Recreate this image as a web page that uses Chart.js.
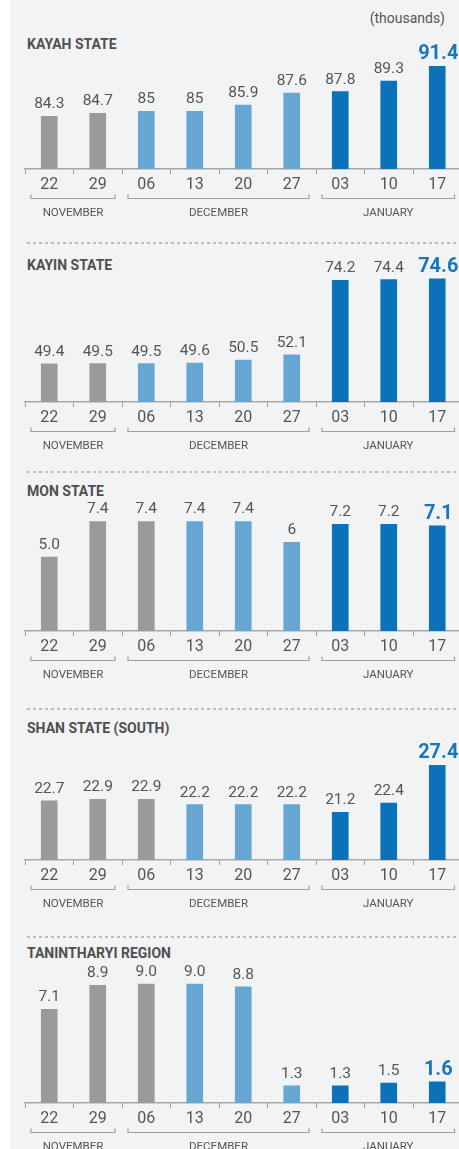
<!DOCTYPE html>
<html>
<head>
<meta charset="utf-8">
<script src="https://cdn.jsdelivr.net/npm/chart.js@4.4.1/dist/chart.umd.min.js"></script>
<style>
html,body{margin:0;padding:0;width:459px;height:1149px;overflow:hidden;background:#fff;font-family:Roboto,sans-serif;}
#bg{position:absolute;left:10px;top:0;width:449px;height:1149px;background:#f2f3f5;}
canvas.c{position:absolute;left:10px;}
.t{position:absolute;left:27px;font:bold 14px/14px Roboto,sans-serif;color:#4f4f4f;white-space:nowrap;}
.u{position:absolute;right:14px;top:11px;font:14px/14px Roboto,sans-serif;color:#555;white-space:nowrap;}
.d{position:absolute;left:27px;width:432px;height:2px;background:repeating-linear-gradient(90deg,#bcbcbc 0 3px,transparent 3px 6px);}
</style>
</head>
<body>
<div id="bg"></div>
<div class="u">(thousands)</div>
<div class="t" style="top:37px">KAYAH STATE</div>
<div class="d" style="top:242px"></div>
<div class="t" style="top:258px">KAYIN STATE</div>
<div class="d" style="top:471px"></div>
<div class="t" style="top:484px">MON STATE</div>
<div class="d" style="top:708px"></div>
<div class="t" style="top:721px">SHAN STATE (SOUTH)</div>
<div class="d" style="top:936px"></div>
<div class="t" style="top:946px">TANINTHARYI REGION</div>

<canvas class="c" id="kayah" width="460" height="220" style="top:9px"></canvas>
<canvas class="c" id="kayin" width="460" height="220" style="top:242px"></canvas>
<canvas class="c" id="mon" width="460" height="220" style="top:471px"></canvas>
<canvas class="c" id="shan" width="460" height="220" style="top:700px"></canvas>
<canvas class="c" id="tanintharyi" width="460" height="220" style="top:943px"></canvas>

<script>
// ---- data ----
const days = ["22","29","06","13","20","27","03","10","17"];
const months = ["NOVEMBER","DECEMBER","JANUARY"];
const monthSpans = [2,4,3];

const kayahValues = [84.3,84.7,85,85,85.9,87.6,87.8,89.3,91.4];
const kayahLabels = ["84.3","84.7","85","85","85.9","87.6","87.8","89.3","91.4"];
const kayahPeriods = ["past","past","recent","recent","recent","recent","latest","latest","latest"];

const kayinValues = [49.4,49.5,49.5,49.6,50.5,52.1,74.2,74.4,74.6];
const kayinLabels = ["49.4","49.5","49.5","49.6","50.5","52.1","74.2","74.4","74.6"];
const kayinPeriods = ["past","past","recent","recent","recent","recent","latest","latest","latest"];

const monValues = [5.0,7.4,7.4,7.4,7.4,6,7.2,7.2,7.1];
const monLabels = ["5.0","7.4","7.4","7.4","7.4","6","7.2","7.2","7.1"];
const monPeriods = ["past","past","past","recent","recent","recent","latest","latest","latest"];

const shanValues = [22.7,22.9,22.9,22.2,22.2,22.2,21.2,22.4,27.4];
const shanLabels = ["22.7","22.9","22.9","22.2","22.2","22.2","21.2","22.4","27.4"];
const shanPeriods = ["past","past","past","recent","recent","recent","latest","latest","latest"];

const tanintharyiValues = [7.1,8.9,9.0,9.0,8.8,1.3,1.3,1.5,1.6];
const tanintharyiLabels = ["7.1","8.9","9.0","9.0","8.8","1.3","1.3","1.5","1.6"];
const tanintharyiPeriods = ["past","past","past","recent","recent","recent","latest","latest","latest"];

// ---- styles ----
const shade = {past:"#9a9a9a", recent:"#66a6d3", latest:"#0b71b9"};

const valueLabelPlugin = {
  id:"valueLabels",
  afterDatasetsDraw(chart){
    const ctx = chart.ctx;
    const ds = chart.data.datasets[0];
    const meta = chart.getDatasetMeta(0);
    ctx.save();
    ctx.textAlign = "center";
    ctx.textBaseline = "alphabetic";
    meta.data.forEach((bar,i)=>{
      const last = i === meta.data.length-1;
      ctx.font = last ? "bold 20px Roboto" : "15.5px Roboto";
      ctx.fillStyle = last ? "#1a76bc" : "#555555";
      ctx.fillText(ds.valueLabels[i], bar.x + (last ? 1 : 0), bar.y - (last ? 7 : 8));
    });
    ctx.restore();
  }
};

const bracketPlugin = {
  id:"monthBrackets",
  afterDraw(chart){
    const ctx = chart.ctx;
    const xs = chart.scales.x;
    const axisY = chart.chartArea.bottom;
    const half = (xs.getPixelForValue(1) - xs.getPixelForValue(0)) / 2;
    let start = 0;
    ctx.save();
    months.forEach((m,i)=>{
      const end = start + monthSpans[i] - 1;
      const x0 = xs.getPixelForValue(start) - half + 6;
      const x1 = xs.getPixelForValue(end) + half - 7;
      const by = axisY + 29.5;
      ctx.strokeStyle = "#a0a0a0";
      ctx.lineWidth = 1.2;
      ctx.beginPath();
      ctx.moveTo(x0, by - 4); ctx.lineTo(x0, by); ctx.lineTo(x1, by); ctx.lineTo(x1, by - 4);
      ctx.stroke();
      ctx.fillStyle = "#555555";
      ctx.font = "11.5px Roboto";
      ctx.textAlign = "center";
      ctx.textBaseline = "middle";
      ctx.fillText(m, (x0 + x1) / 2, axisY + 44);
      start = end + 1;
    });
    ctx.restore();
  }
};

function makeChart(id, values, labels, periods, yMin, yMax){
  return new Chart(document.getElementById(id), {
    type:"bar",
    data:{
      labels: days,
      datasets:[{
        data: values,
        valueLabels: labels,
        backgroundColor: periods.map(p => shade[p]),
        barThickness: 16
      }]
    },
    options:{
      responsive:false,
      animation:false,
      events:[],
      layout:{padding:{left:15,right:8.5,top:20,bottom:0}},
      plugins:{legend:{display:false},tooltip:{enabled:false},title:{display:false}},
      scales:{
        x:{
          grid:{display:true,drawOnChartArea:false,drawTicks:true,tickLength:5,color:"#9c9c9c",lineWidth:1,offset:true},
          border:{display:true,color:"#a8a8a8",width:1.5},
          ticks:{color:"#555555",font:{family:"Roboto",size:16},padding:1.5,autoSkip:false,maxRotation:0},
          afterFit(s){ s.height = 60; }
        },
        y:{display:false,min:yMin,max:yMax}
      }
    },
    plugins:[valueLabelPlugin, bracketPlugin]
  });
}

makeChart("kayah", kayahValues, kayahLabels, kayahPeriods, 76.8, 96.7);
makeChart("kayin", kayinValues, kayinLabels, kayinPeriods, 38.1, 79.6);
makeChart("mon", monValues, monLabels, monPeriods, 0, 9.46);
makeChart("shan", shanValues, shanLabels, shanPeriods, 14.9, 33.37);
makeChart("tanintharyi", tanintharyiValues, tanintharyiLabels, tanintharyiPeriods, 0, 10.6);
</script>
</body>
</html>
